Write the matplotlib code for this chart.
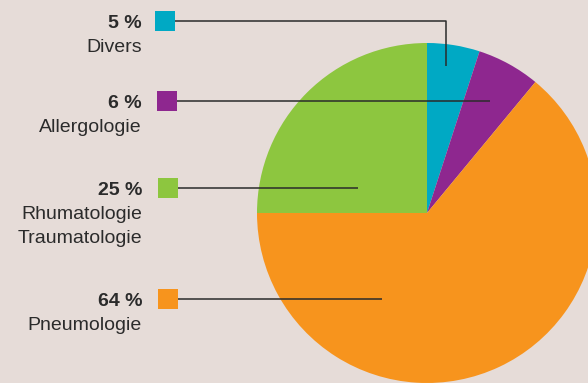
import matplotlib.pyplot as plt
from matplotlib.patches import Rectangle

plt.rcParams['font.family'] = ['Liberation Sans', 'DejaVu Sans']

# shares in %, clockwise from 12 o'clock
labels = ['Divers', 'Allergologie', 'Pneumologie', 'Rhumatologie\nTraumatologie']
values = [5, 6, 64, 25]
colors = ['#00a9c4', '#8e278f', '#f7941d', '#8dc63f']

W, H = 588, 383
bg = '#e6dcd8'

fig = plt.figure(figsize=(W / 100, H / 100), dpi=100, facecolor=bg)
ax = fig.add_axes([0, 0, 1, 1])
ax.set_facecolor(bg)

cx, cy, r = 427, H - 213, 170
ax.pie(values, colors=colors, startangle=90, counterclock=False,
       center=(cx, cy), radius=r, frame=True,
       wedgeprops=dict(linewidth=0))
ax.set_xlim(0, W)
ax.set_ylim(0, H)
ax.set_aspect('equal')
ax.axis('off')

# legend blocks on the left: (row y, square x, leader path)
rows = [
    (21, 155, [(446, 21), (446, 66)]),
    (101, 157, [(490, 101)]),
    (299, 158, [(382, 299)]),
    (188, 158, [(358, 188)]),
]

for (ry, sx, path), lab, val, col in zip(rows, labels, values, colors):
    y = H - ry
    ax.add_patch(Rectangle((sx, y - 10), 20, 20, facecolor=col,
                           edgecolor='none', zorder=4))
    xs = [sx + 20] + [p[0] for p in path]
    ys = [y] + [H - p[1] for p in path]
    ax.plot(xs, ys, color='#2b2b2b', lw=1.1, zorder=3,
            solid_capstyle='butt')
    ax.text(142, y - 7, f'{val} %', ha='right', va='baseline',
            fontsize=14, fontweight='bold', color='#2b2b2b')
    for i, line in enumerate(lab.split('\n')):
        ax.text(142, y - 31 - 24 * i, line, ha='right', va='baseline',
                fontsize=14, color='#2b2b2b')

fig.savefig('out.png', dpi=100, facecolor=bg)
